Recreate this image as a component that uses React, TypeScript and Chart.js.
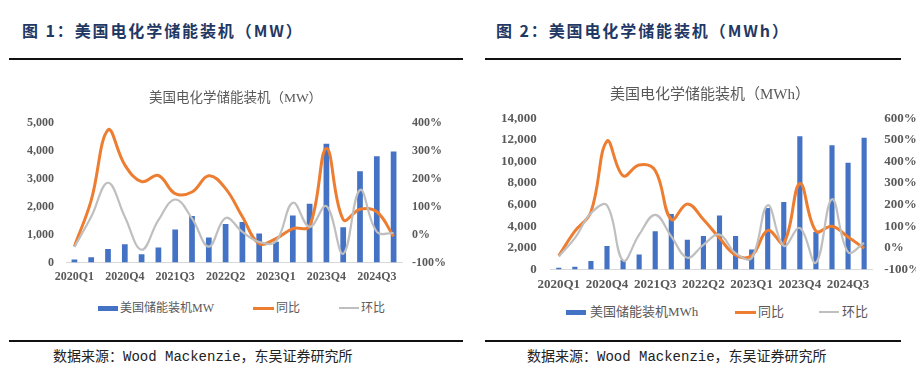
import React, { useEffect, useRef } from 'react';
import { Chart, registerables } from 'chart.js';

Chart.register(...registerables);

// ---------- data ----------
const quarters = [
  '2020Q1', '2020Q2', '2020Q3', '2020Q4',
  '2021Q1', '2021Q2', '2021Q3', '2021Q4',
  '2022Q1', '2022Q2', '2022Q3', '2022Q4',
  '2023Q1', '2023Q2', '2023Q3', '2023Q4',
  '2024Q1', '2024Q2', '2024Q3', '2024Q4',
];

// Figure 1: MW
const mwInstalled = [110, 190, 490, 660, 300, 540, 1190, 1670, 900, 1380, 1450, 1040, 745, 1690, 2110, 4260, 1270, 3270, 3810, 3980];
const mwYoY = [-42, 123, 375, 250, 190, 212, 147, 153, 211, 165, 64, -32, -14, 22, 30, 309, 54, 91, 82, -6];
const mwQoQ = [-44, 64, 186, 64, -54, 52, 126, 58, -43, 60, 10, -26, -24, 114, 28, 102, -68, 160, 10, 6];

// Figure 2: MWh
const mwhInstalled = [150, 250, 780, 2160, 880, 1375, 3530, 5125, 2750, 3090, 5000, 3090, 1840, 5690, 6250, 12340, 3470, 11500, 9875, 12190];
const mwhYoY = [-37, 77, 166, 494, 334, 384, 358, 131, 203, 131, 45, -33, -37, 81, 22, 298, 77, 100, 50, -2];
const mwhQoQ = [-40, 45, 160, 197, -59, 61, 153, 53, -46, 14, 61, -25, -48, 197, 9, 92, -69, 225, -20, 22];

const legendYoY = '同比';
const legendQoQ = '环比';

// ---------- styles ----------
const BAR_COLOR = '#4472C4';
const YOY_COLOR = '#ED7D31';
const QOQ_COLOR = '#BFBFBF';
const TEXT_GREY = '#595959';
const SERIF = "'Liberation Serif', 'Times New Roman', 'Noto Sans CJK SC', serif";

type Spec = {
  labels: string[];
  bars: number[];
  yoy: number[];
  qoq: number[];
  barLabel: string;
  title: string;
  leftMax: number;
  leftStep: number;
  rightMax: number;
  tickSize: number;
  titleSize: number;
  titlePadTop: number;
  titlePadBottom: number;
  padLeft: number;
  padRight: number;
  leftTickPad: number;
  rightTickPad: number;
  barPct: number;
};

function ComboChart({ spec, left, top, width, height }: { spec: Spec; left: number; top: number; width: number; height: number }) {
  const ref = useRef<HTMLCanvasElement | null>(null);
  useEffect(() => {
    if (!ref.current) return;
    const tickFont = { family: SERIF, size: spec.tickSize, weight: 'bold' as const };
    const chart = new Chart(ref.current, {
      type: 'bar',
      data: {
        labels: spec.labels,
        datasets: [
          {
            type: 'bar',
            label: spec.barLabel,
            data: spec.bars,
            backgroundColor: BAR_COLOR,
            borderWidth: 0,
            yAxisID: 'y',
            order: 3,
            categoryPercentage: 1,
            barPercentage: spec.barPct,
          },
          {
            type: 'line',
            label: legendYoY,
            data: spec.yoy,
            borderColor: YOY_COLOR,
            backgroundColor: YOY_COLOR,
            borderWidth: 3,
            pointRadius: 0,
            tension: 0.4,
            yAxisID: 'y1',
            order: 2,
          },
          {
            type: 'line',
            label: legendQoQ,
            data: spec.qoq,
            borderColor: QOQ_COLOR,
            backgroundColor: QOQ_COLOR,
            borderWidth: 2.2,
            pointRadius: 0,
            tension: 0.4,
            yAxisID: 'y1',
            order: 1,
          },
        ],
      },
      options: {
        responsive: false,
        animation: false,
        layout: { padding: { left: spec.padLeft, right: spec.padRight, top: 0, bottom: 0 } },
        plugins: {
          legend: { display: false },
          tooltip: { enabled: false },
          title: {
            display: true,
            text: spec.title,
            color: TEXT_GREY,
            font: { family: SERIF, size: spec.titleSize, weight: 'normal' },
            padding: { top: spec.titlePadTop, bottom: spec.titlePadBottom },
          },
        },
        scales: {
          x: {
            offset: true,
            grid: { display: false, drawTicks: false },
            border: { display: true, color: '#D9D9D9', width: 1 },
            ticks: {
              autoSkip: false,
              maxRotation: 0,
              minRotation: 0,
              padding: 7,
              color: TEXT_GREY,
              font: tickFont,
              callback: (_v: any, i: number) => (i % 3 === 0 ? spec.labels[i] : ''),
            },
          },
          y: {
            position: 'left',
            min: 0,
            max: spec.leftMax,
            grid: { display: false, drawTicks: false },
            border: { display: false },
            ticks: {
              stepSize: spec.leftStep,
              padding: spec.leftTickPad,
              color: TEXT_GREY,
              font: tickFont,
              callback: (v: any) => Number(v).toLocaleString('en-US'),
            },
          },
          y1: {
            position: 'right',
            min: -100,
            max: spec.rightMax,
            grid: { display: false, drawTicks: false },
            border: { display: false },
            ticks: {
              stepSize: 100,
              padding: spec.rightTickPad,
              color: TEXT_GREY,
              font: tickFont,
              callback: (v: any) => `${v}%`,
            },
          },
        },
      },
    } as any);
    return () => chart.destroy();
  }, [spec]);
  return (
    <canvas
      ref={ref}
      width={width}
      height={height}
      style={{ position: 'absolute', left, top, width, height }}
    />
  );
}

function Legend({ left, top, size, gaps, barLabel }: { left: number[]; top: number; size: number; gaps: number[]; barLabel: string }) {
  const text: React.CSSProperties = {
    position: 'absolute',
    top: top - size * 0.6,
    fontFamily: SERIF,
    fontSize: size,
    lineHeight: `${size * 1.2}px`,
    color: TEXT_GREY,
    whiteSpace: 'nowrap',
  };
  return (
    <>
      <div style={{ position: 'absolute', left: left[0], top: top - 2.5, width: 20, height: 5, background: BAR_COLOR }} />
      <div style={{ ...text, left: left[0] + 20 + gaps[0] }}>{barLabel}</div>
      <div style={{ position: 'absolute', left: left[1], top: top - 1.5, width: 21, height: 3, background: YOY_COLOR }} />
      <div style={{ ...text, left: left[1] + 21 + gaps[1] }}>{legendYoY}</div>
      <div style={{ position: 'absolute', left: left[2], top: top - 1.25, width: 20, height: 2.5, background: QOQ_COLOR }} />
      <div style={{ ...text, left: left[2] + 20 + gaps[2] }}>{legendQoQ}</div>
    </>
  );
}

const spec1: Spec = {
  labels: quarters,
  bars: mwInstalled,
  yoy: mwYoY,
  qoq: mwQoQ,
  barLabel: '美国储能装机MW',
  title: '美国电化学储能装机（MW）',
  leftMax: 5000,
  leftStep: 1000,
  rightMax: 400,
  tickSize: 12,
  titleSize: 13.5,
  titlePadTop: 11.9,
  titlePadBottom: 16.9,
  padLeft: 5,
  padRight: 4,
  leftTickPad: 12,
  rightTickPad: 10,
  barPct: 0.34,
};

const spec2: Spec = {
  labels: quarters,
  bars: mwhInstalled,
  yoy: mwhYoY,
  qoq: mwhQoQ,
  barLabel: '美国储能装机MWh',
  title: '美国电化学储能装机（MWh）',
  leftMax: 14000,
  leftStep: 2000,
  rightMax: 600,
  tickSize: 13,
  titleSize: 15,
  titlePadTop: 6,
  titlePadBottom: 14.3,
  padLeft: 0,
  padRight: 0,
  leftTickPad: 14,
  rightTickPad: 12,
  barPct: 0.32,
};

const heading: React.CSSProperties = {
  position: 'absolute',
  fontFamily: "'Noto Sans CJK SC', sans-serif",
  fontWeight: 'bold',
  fontSize: 16,
  letterSpacing: '1.9px',
  color: '#1F3864',
  whiteSpace: 'nowrap',
  lineHeight: '20px',
  top: 20,
};

const source: React.CSSProperties = {
  position: 'absolute',
  fontFamily: "'Liberation Mono', 'Noto Sans CJK SC', monospace",
  fontSize: 14,
  color: '#222',
  whiteSpace: 'nowrap',
  lineHeight: '18px',
  top: 348,
};

const rule = (left: number, top: number, width: number): React.CSSProperties => ({
  position: 'absolute',
  left,
  top,
  width,
  height: 2,
  background: '#111',
});

export default function App() {
  return (
    <div
      style={{
        position: 'fixed',
        left: 0,
        top: 0,
        width: 916,
        height: 388,
        overflow: 'hidden',
        background: '#fff',
      }}
    >
      <div style={{ ...heading, left: 22 }}>图 1：美国电化学储能装机（MW）</div>
      <div style={{ ...heading, left: 496 }}>图 2：美国电化学储能装机（MWh）</div>
      <div style={rule(9, 58, 454)} />
      <div style={rule(485, 58, 416)} />

      <ComboChart spec={spec1} left={10} top={78} width={450} height={213} />
      <ComboChart spec={spec2} left={487} top={80} width={446} height={219} />

      <Legend left={[98, 253, 339]} top={308} size={12} gaps={[2, 2, 2]} barLabel={spec1.barLabel} />
      <Legend left={[566, 735, 819]} top={312} size={13} gaps={[4, 2, 3]} barLabel={spec2.barLabel} />

      <div style={rule(9, 340, 454)} />
      <div style={rule(485, 340, 416)} />
      <div style={{ ...source, left: 53 }}>数据来源：Wood Mackenzie，东吴证券研究所</div>
      <div style={{ ...source, left: 527 }}>数据来源：Wood Mackenzie，东吴证券研究所</div>
    </div>
  );
}
